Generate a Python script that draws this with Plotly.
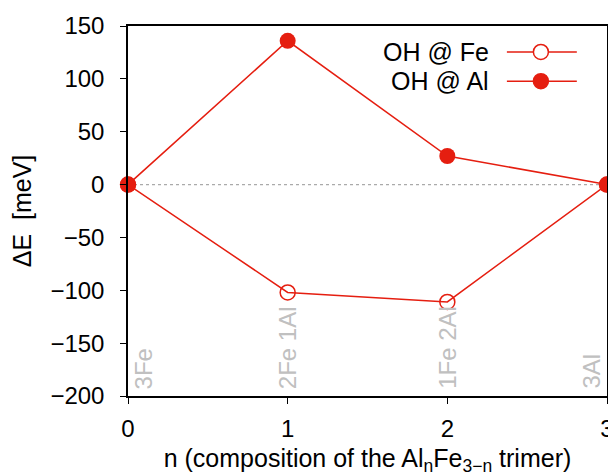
import plotly.graph_objects as go

n_values = [0, 1, 2, 3]
oh_fe = [0, -102, -111, 0]
oh_al = [0, 136, 27, 0]
comp_labels = ["3Fe", "2Fe 1Al", "1Fe 2Al", "3Al"]
comp_label_x = [0.1, 1, 2, 2.9]
x_ticks = [0, 1, 2, 3]
y_ticks = [-200, -150, -100, -50, 0, 50, 100, 150]
series_names = ["OH @ Fe", "OH @ Al"]

RED = "#e51e10"
FONT = "Liberation Sans, Arial, Helvetica, sans-serif"

fig = go.Figure()

fig.add_trace(go.Scatter(
    x=n_values, y=oh_fe, mode="lines+markers", name=series_names[0],
    line=dict(color=RED, width=1.5),
    marker=dict(symbol="circle-open", size=15, color=RED, line=dict(width=1.5, color=RED)),
    cliponaxis=False, showlegend=False,
))
fig.add_trace(go.Scatter(
    x=n_values, y=oh_al, mode="lines+markers", name=series_names[1],
    line=dict(color=RED, width=1.5),
    marker=dict(symbol="circle", size=16, color=RED),
    cliponaxis=False, showlegend=False,
))

# dotted zero line
fig.add_shape(type="line", xref="paper", yref="y", x0=0, x1=1, y0=0, y1=0,
              line=dict(color="#aaaaaa", width=1.2, dash="dot"), layer="below")

# composition labels
for xv, lab in zip(comp_label_x, comp_labels):
    fig.add_annotation(x=xv, y=-200, xref="x", yref="y", text=lab, textangle=-90,
                       showarrow=False, xanchor="center", yanchor="bottom", yshift=5,
                       font=dict(family=FONT, size=24, color="#c0c0c0"))

# legend (gnuplot style: text on left, sample on right)
leg_y = [0.93, 0.851]
for i, (name, ly) in enumerate(zip(series_names, leg_y)):
    fig.add_annotation(x=0.758, y=ly, xref="paper", yref="paper", text=name,
                       showarrow=False, xanchor="right", yanchor="middle",
                       font=dict(family=FONT, size=25, color="black"))
    fig.add_shape(type="line", xref="paper", yref="paper", x0=0.791, x1=0.937,
                  y0=ly, y1=ly, line=dict(color=RED, width=1.5))
    fig.add_shape(type="circle", xref="paper", yref="paper", xsizemode="pixel",
                  ysizemode="pixel", xanchor=0.862, yanchor=ly,
                  x0=-7.5, x1=7.5, y0=-7.5, y1=7.5,
                  line=dict(color=RED, width=1.5),
                  fillcolor="white" if i == 0 else RED)

# page body has an 8px default margin, so the figure is sized/shifted to compensate
fig.update_layout(
    width=608, height=468,
    margin=dict(l=120, r=9, t=18, b=80),
    paper_bgcolor="white", plot_bgcolor="white",
    font=dict(family=FONT, size=24, color="black"),
    showlegend=False,
)
fig.update_xaxes(
    range=[0, 3], tickvals=x_ticks, ticktext=[str(v) for v in x_ticks],
    automargin=False,
    showgrid=False, zeroline=False, showline=True, linecolor="black", linewidth=1.5,
    mirror=True, ticks="outside", ticklen=6, tickwidth=1.2, tickcolor="black",
    ticklabelstandoff=4,
    title=dict(text="n (composition of the Al<sub>n</sub>Fe<sub>3\u2212n</sub> trimer)",
               standoff=14, font=dict(size=25)),
)
fig.update_yaxes(
    range=[-200, 150], tickvals=y_ticks,
    ticktext=[str(v).replace("-", "\u2212") for v in y_ticks],
    automargin=False,
    showgrid=False, zeroline=False, showline=True, linecolor="black", linewidth=1.5,
    mirror="ticks", ticks="outside", ticklen=6, tickwidth=1.2, tickcolor="black",
    ticklabelstandoff=11,
    title=dict(text="\u0394E\u00a0 [meV]", standoff=14, font=dict(size=25)),
)

fig.write_html("out.html")
